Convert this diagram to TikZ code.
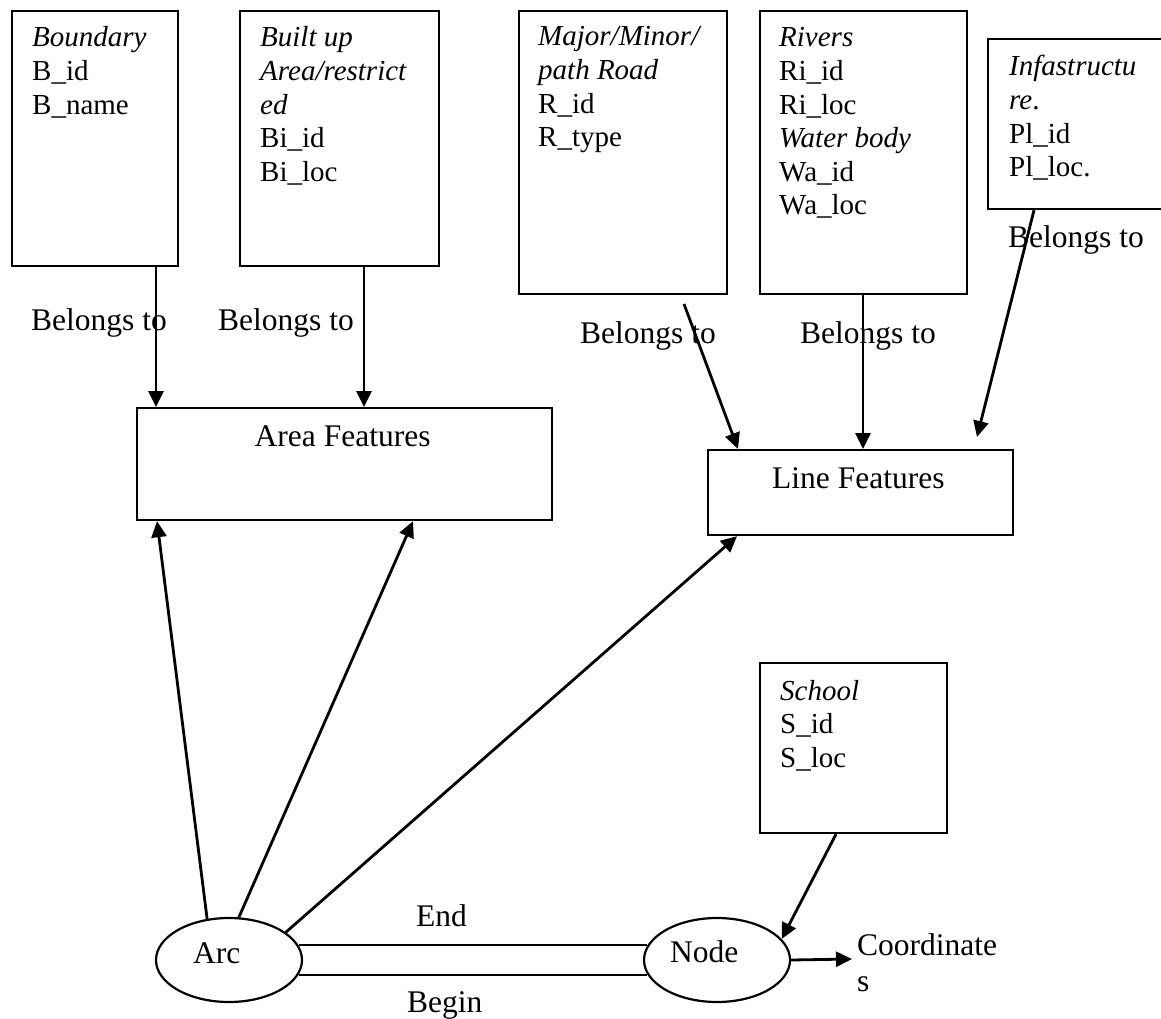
\documentclass[tikz,border=0pt]{standalone}
\usepackage{fontspec}
\setmainfont{Liberation Serif}
\usetikzlibrary{arrows.meta,calc,shapes.geometric}
% stacked attribute lines, first baseline is the node's base
\newcommand\attrlines[1]{\begin{tabular}[t]{@{}l@{}}#1\end{tabular}}
\begin{document}
\begin{tikzpicture}[x=1pt,y=-1pt,
  box/.style={draw, line width=2.2pt, rectangle, anchor=north west, inner sep=0pt},
  oval/.style={draw, line width=2.2pt, ellipse, minimum width=146pt, minimum height=84pt, inner sep=0pt},
  lbl/.style={inner sep=0pt, anchor=base west, font=\fontsize{31.5}{36.2}\selectfont},
  attr/.style={inner sep=0pt, anchor=base west, font=\fontsize{29}{33.6}\selectfont},
  conn/.style={line width=2.8pt, -{Triangle[length=16pt,width=15pt]}},
  rail/.style={line width=2.2pt}]
\fill[white] (0,0) rectangle (1161,1019);
\useasboundingbox (0,0) rectangle (1161,1019);

% entity boxes
\node[box, minimum width=166pt, minimum height=255pt] (bnd) at (11,10) {};
\node[box, minimum width=199pt, minimum height=255pt] (bua) at (239,10) {};
\node[box, minimum width=208pt, minimum height=283pt] (road) at (518,10) {};
\node[box, minimum width=207pt, minimum height=283pt] (riv) at (759,10) {};
\node[box, minimum width=200pt, minimum height=170pt] (inf) at (987,38) {};
\node[box, minimum width=415pt, minimum height=112pt] (area) at (136,407) {};
\node[box, minimum width=305pt, minimum height=85pt] (line) at (707,449) {};
\node[box, minimum width=187pt, minimum height=170pt] (school) at (759,662) {};

% attribute lists
\node[attr] (bndtxt) at (32,47) {\attrlines{\textit{Boundary}\\B\_id\\B\_name}};
\node[attr] (buatxt) at (260,47) {\attrlines{\textit{Built up}\\\textit{Area/restrict}\\\textit{ed}\\Bi\_id\\Bi\_loc}};
\node[attr] (roadtxt) at (538,46) {\attrlines{\textit{Major/Minor/}\\\textit{path Road}\\R\_id\\R\_type}};
\node[attr] (rivtxt) at (779,47) {\attrlines{\textit{Rivers}\\Ri\_id\\Ri\_loc\\\textit{Water body}\\Wa\_id\\Wa\_loc}};
\node[attr] (inftxt) at (1009,76) {\attrlines{\textit{Infastructu}\\\textit{re}.\\Pl\_id\\Pl\_loc.}};
\node[attr] (schooltxt) at (780,700) {\attrlines{\textit{School}\\S\_id\\S\_loc}};

% feature titles
\node[lbl] (areatxt) at (254.5,446) {Area Features};
\node[lbl] (linetxt) at (772,488) {Line Features};

% arc and node ellipses
\node[oval] (arc) at (229,960) {};
\node[oval] (nd) at (717,960) {};
\node[lbl] (arctxt) at (193,963) {Arc};
\node[lbl] (ndtxt) at (670,962) {Node};
\node[lbl] (crd) at (857,955) {\begin{tabular}[t]{@{}l@{}}Coordinate\\s\end{tabular}};

% relation labels
\node[lbl] (bl1) at (31,330) {Belongs to};
\node[lbl] (bl2) at (218,330) {Belongs to};
\node[lbl] (bl3) at (580,343) {Belongs to};
\node[lbl] (bl4) at (800,343) {Belongs to};
\node[lbl] (bl5) at (1008,247) {Belongs to};
\node[lbl] (endtxt) at (416,926) {End};
\node[lbl] (begintxt) at (407,1012) {Begin};

% free ends
\coordinate (roadtail) at (684,304);
\coordinate (inftip) at (977,437);

% belongs-to connectors
\draw[conn] (156,0 |- bnd.south) -- (156,0 |- area.north);
\draw[conn] (364,0 |- bua.south) -- (364,0 |- area.north);
\draw[conn] (roadtail) -- (738,0 |- line.north);
\draw[conn] (863,0 |- riv.south) -- (863,0 |- line.north);
\draw[conn] (1034,0 |- inf.south) -- (inftip);

% arc connectors
\draw[conn] (arc.118) -- (157,0 |- area.south);
\draw[conn] (arc.77) -- (413,0 |- area.south);
\draw[conn] (arc.26) -- (737,0 |- line.south);

% begin / end rails
\draw[rail] (arc.12) -- (nd.168);
\draw[rail] (arc.-12) -- (nd.-168);

% school and coordinates
\draw[conn] (836,0 |- school.south) -- (nd.18);
\draw[conn] (nd.east) -- ($(crd.base west)+(-5,4)$);
\end{tikzpicture}
\end{document}
